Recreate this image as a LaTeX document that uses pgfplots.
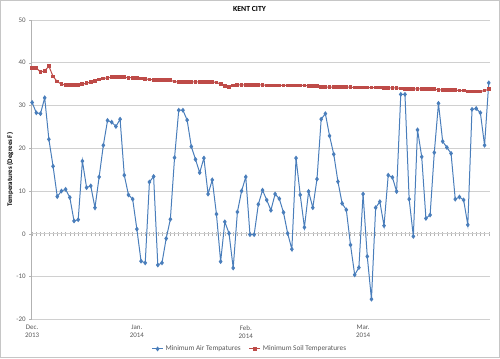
\documentclass[border=0pt]{standalone}
\usepackage{pgfplots}
\usepackage{pgfplotstable}
\pgfplotsset{compat=1.18}
\usepackage{fontspec}
\setmainfont{Carlito}
\definecolor{airblue}{HTML}{4A7EBB}
\definecolor{soilred}{HTML}{BE4B48}
\definecolor{gridgray}{HTML}{D0D0D0}
\definecolor{labgray}{HTML}{595959}

\pgfplotstableread{
i air soil
0 30.7 38.8
1 28.3 38.8
2 28.1 37.8
3 31.8 38.1
4 22.1 39.2
5 15.8 36.8
6 8.7 35.6
7 10.0 35.0
8 10.4 34.8
9 8.5 34.8
10 3.0 34.8
11 3.3 34.8
12 17.0 35.0
13 10.8 35.2
14 11.2 35.5
15 6.1 35.8
16 13.3 36.1
17 20.7 36.3
18 26.5 36.5
19 26.1 36.6
20 25.1 36.6
21 26.8 36.6
22 13.7 36.6
23 9.1 36.5
24 8.1 36.5
25 1.1 36.4
26 -6.4 36.3
27 -6.8 36.2
28 12.1 36.1
29 13.4 36.0
30 -7.3 36.0
31 -6.8 36.0
32 -1.1 35.9
33 3.4 35.9
34 17.8 35.6
35 28.9 35.5
36 28.9 35.5
37 26.6 35.5
38 20.4 35.5
39 17.4 35.5
40 14.3 35.5
41 17.7 35.5
42 9.3 35.5
43 12.6 35.5
44 4.6 35.4
45 -6.5 35.0
46 2.8 34.6
47 0.1 34.4
48 -8.0 34.7
49 5.1 34.8
50 10.0 34.8
51 13.3 34.8
52 -0.2 34.8
53 -0.2 34.8
54 6.9 34.8
55 10.2 34.8
56 7.9 34.7
57 5.5 34.7
58 9.3 34.7
59 8.2 34.7
60 5.0 34.7
61 0.1 34.7
62 -3.6 34.7
63 17.7 34.7
64 9.1 34.7
65 1.5 34.7
66 9.9 34.6
67 6.1 34.6
68 12.8 34.5
69 26.8 34.3
70 28.1 34.3
71 22.9 34.3
72 18.6 34.3
73 12.2 34.3
74 7.1 34.3
75 5.6 34.3
76 -2.6 34.3
77 -9.6 34.2
78 -7.9 34.2
79 9.3 34.2
80 -5.3 34.2
81 -15.3 34.2
82 6.1 34.2
83 7.5 34.2
84 1.9 34.1
85 13.7 34.1
86 13.2 34.1
87 9.9 34.1
88 32.6 34.0
89 32.6 33.9
90 8.1 33.9
91 -0.6 33.9
92 24.3 33.9
93 18.0 33.9
94 3.6 33.9
95 4.4 33.8
96 19.0 33.8
97 30.5 33.7
98 21.6 33.6
99 20.2 33.6
100 18.8 33.6
101 8.1 33.6
102 8.6 33.5
103 7.9 33.5
104 2.1 33.3
105 29.1 33.3
106 29.3 33.3
107 28.3 33.3
108 20.7 33.5
109 35.3 33.8
}\datatable

\begin{document}
\begin{tikzpicture}[x=1bp,y=1bp]
\path[use as bounding box] (0,0) rectangle (500,358);
\draw[gray!45, line width=0.8bp] (0.4,0.4) rectangle (499.6,357.6);
% zero line with category ticks
\begin{axis}[
  at={(31.7bp,38.7bp)}, anchor=south west,
  scale only axis, width=458.3bp, height=299.3bp,
  xmin=-0.1, xmax=109.3, ymin=-20, ymax=50,
  axis x line=middle, axis y line=none,
  axis line style={-, gray!55, line width=0.6bp},
  xtick={0,1,...,109}, xticklabels={},
  xtick align=center, major tick length=4.5bp,
  xtick style={gray!60, line width=0.5bp},
  ytick=\empty,
]
\end{axis}
\begin{axis}[
  at={(31.7bp,38.7bp)}, anchor=south west,
  scale only axis, width=458.3bp, height=299.3bp,
  xmin=-0.1, xmax=109.3, ymin=-20, ymax=50,
  axis x line*=bottom, axis y line*=left,
  x axis line style={-, gridgray, line width=0.6bp},
  y axis line style={-, gray!60, line width=0.6bp},
  ytick={-20,-10,...,50},
  xtick={0,25,51,79},
  xticklabels={{Dec.\\2013},{Jan.\\2014},{Feb.\\2014},{Mar.\\2014}},
  xticklabel style={align=center, font=\fontsize{7}{8}\selectfont, text=labgray},
  yticklabel style={font=\fontsize{7}{8}\selectfont, text=labgray},
  /pgf/number format/assume math mode=true,
  ymajorgrids, grid style={gridgray, line width=0.6bp},
  xtick style={draw=none},
  ytick style={gray!60, line width=0.5bp},
  tick align=outside, major tick length=2.5bp,
  ylabel={Temperatures (Degrees F)},
  ylabel style={at={(axis description cs:-0.047,0.5)}, anchor=center, font=\bfseries\fontsize{7}{8}\selectfont},
  legend columns=2,
  legend style={draw=none, fill=none, at={(0.476,-0.099)}, anchor=center,
    font=\fontsize{7.3}{8.3}\selectfont, text=labgray,
    /tikz/every even column/.append style={column sep=6bp}},
  legend cell align=left,
  legend image code/.code={\draw[mark repeat=2,mark phase=2] plot coordinates {(0bp,0bp) (5.5bp,0bp) (11bp,0bp)};},
]
\addplot[airblue, line width=1bp, mark=diamond*, mark size=1.7bp, mark options={fill=airblue}] table[x=i, y=air] {\datatable};
\addlegendentry{Minimum Air Tempatures}
\addplot[soilred, line width=1bp, mark=square*, mark size=1.4bp, mark options={fill=soilred}] table[x=i, y=soil] {\datatable};
\addlegendentry{Minimum Soil Temperatures}
\end{axis}
\node[font=\bfseries\fontsize{7.8}{8.6}\selectfont] at (249.5,349) {KENT CITY};
\end{tikzpicture}
\end{document}
